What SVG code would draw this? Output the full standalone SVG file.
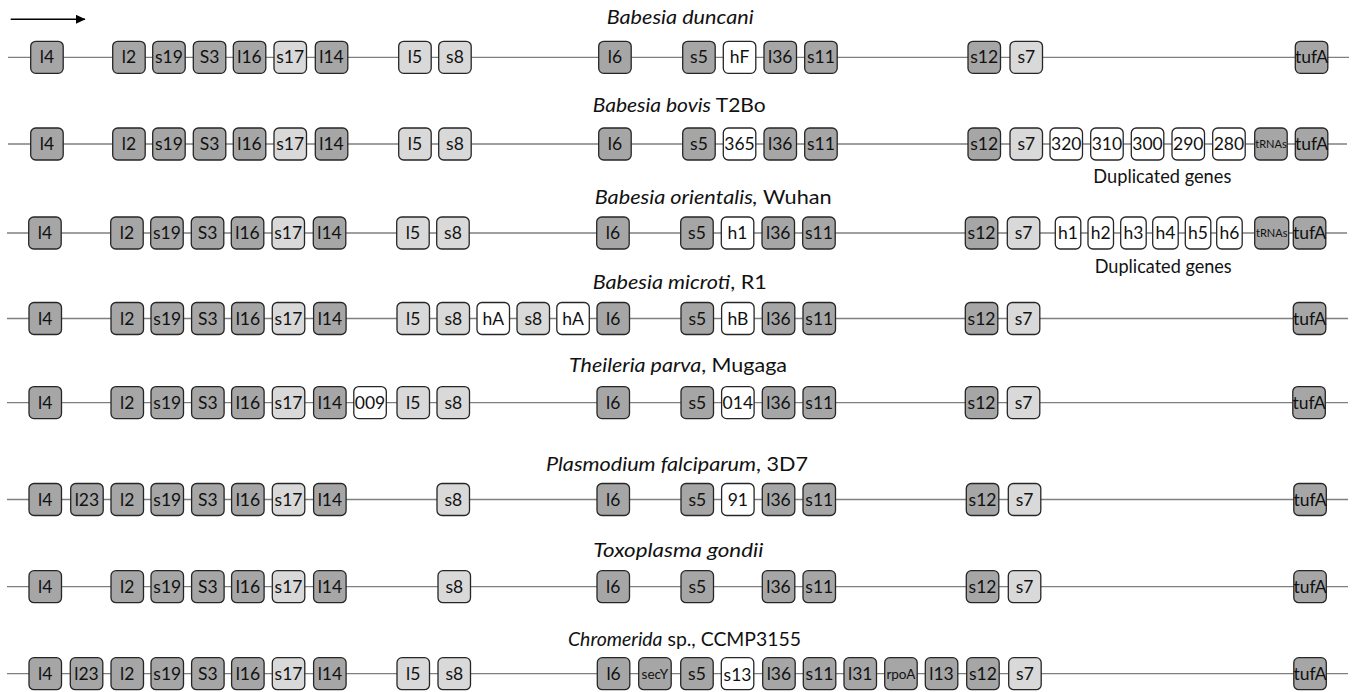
<svg xmlns="http://www.w3.org/2000/svg" width="1355" height="692" viewBox="0 0 1355 692">
<style>
.b{stroke:#262626;stroke-width:1.3}
.d{fill:#a6a6a6}.l{fill:#d9d9d9}.w{fill:#ffffff}
.t{font-family:Lato,"Open Sans",sans-serif;font-size:17.5px;text-anchor:middle;fill:#111}
.sm{font-size:13.5px}.xs{font-size:11px}
.ttl{font-family:Lato,"Open Sans",sans-serif;font-size:20px;fill:#111}
.dup{font-size:19px}
.ln{stroke:#7f7f7f;stroke-width:1.3;fill:none}
</style>
<defs>
<marker id="ah" markerUnits="userSpaceOnUse" markerWidth="10" markerHeight="10" refX="9" refY="4.5" orient="auto"><path d="M0,0 L9.5,4.5 L0,9 z" fill="#000"/></marker>
</defs>
<rect width="1355" height="692" fill="#fff"/>
<g id="connectors">
<line x1="10.7" y1="19.3" x2="85" y2="19.3" stroke="#000" stroke-width="1.5" marker-end="url(#ah)"/>
<line class="ln" x1="8" y1="57.3" x2="1349" y2="57.3"/>
<line class="ln" x1="8" y1="144" x2="1347" y2="144"/>
<line class="ln" x1="7" y1="233" x2="1347" y2="233"/>
<line class="ln" x1="7" y1="318.5" x2="1348" y2="318.5"/>
<line class="ln" x1="7" y1="402.6" x2="1348" y2="402.6"/>
<line class="ln" x1="7" y1="499.5" x2="1348" y2="499.5"/>
<line class="ln" x1="7" y1="586.7" x2="1348" y2="586.7"/>
<line class="ln" x1="7" y1="673.7" x2="1348" y2="673.7"/>
</g>
<g id="titles">
<text id="title1" class="ttl" x="606.7" y="24" textLength="147" lengthAdjust="spacingAndGlyphs" font-style="italic">Babesia duncani</text>
<text id="title2" class="ttl" x="592.7" y="112" textLength="173" lengthAdjust="spacingAndGlyphs"><tspan font-style="italic">Babesia bovis</tspan> T2Bo</text>
<text id="dup2" class="ttl dup" x="1093.3" y="183.3" textLength="138" lengthAdjust="spacingAndGlyphs">Duplicated genes</text>
<text id="title3" class="ttl" x="594.7" y="204" textLength="237" lengthAdjust="spacingAndGlyphs"><tspan font-style="italic">Babesia orientalis,</tspan> Wuhan</text>
<text id="dup3" class="ttl dup" x="1094.7" y="273.3" textLength="137" lengthAdjust="spacingAndGlyphs">Duplicated genes</text>
<text id="title4" class="ttl" x="592.7" y="289.3" textLength="174" lengthAdjust="spacingAndGlyphs"><tspan font-style="italic">Babesia microti</tspan>, R1</text>
<text id="title5" class="ttl" x="569" y="372" textLength="218" lengthAdjust="spacingAndGlyphs"><tspan font-style="italic">Theileria parva</tspan>, Mugaga</text>
<text id="title6" class="ttl" x="546" y="470.5" textLength="262" lengthAdjust="spacingAndGlyphs"><tspan font-style="italic">Plasmodium falciparum</tspan>, 3D7</text>
<text id="title7" class="ttl" x="593.3" y="557" textLength="170" lengthAdjust="spacingAndGlyphs" font-style="italic">Toxoplasma gondii</text>
<text id="title8" class="ttl" x="568" y="646" textLength="233" lengthAdjust="spacingAndGlyphs"><tspan font-style="italic">Chromerida</tspan> sp., CCMP3155</text>
</g>

<g id="row1" transform="translate(0,57.3)">
<g id="r1-l4"><rect class="b d" x="30.7" y="-16" width="32.5" height="32" rx="5"/><text class="t" x="46.95" y="6">l4</text></g>
<g id="r1-l2"><rect class="b d" x="112.7" y="-16" width="32.5" height="32" rx="5"/><text class="t" x="128.95" y="6">l2</text></g>
<g id="r1-s19"><rect class="b d" x="152.7" y="-16" width="32.5" height="32" rx="5"/><text class="t" x="168.95" y="6">s19</text></g>
<g id="r1-S3"><rect class="b d" x="193.3" y="-16" width="32.5" height="32" rx="5"/><text class="t" x="209.55" y="6">S3</text></g>
<g id="r1-l16"><rect class="b d" x="233.3" y="-16" width="32.5" height="32" rx="5"/><text class="t" x="249.55" y="6">l16</text></g>
<g id="r1-s17"><rect class="b l" x="274" y="-16" width="32.5" height="32" rx="5"/><text class="t" x="290.25" y="6">s17</text></g>
<g id="r1-l14"><rect class="b d" x="315.3" y="-16" width="32.5" height="32" rx="5"/><text class="t" x="331.55" y="6">l14</text></g>
<g id="r1-l5"><rect class="b l" x="398.7" y="-16" width="32.5" height="32" rx="5"/><text class="t" x="414.95" y="6">l5</text></g>
<g id="r1-s8"><rect class="b l" x="438.7" y="-16" width="32.5" height="32" rx="5"/><text class="t" x="454.95" y="6">s8</text></g>
<g id="r1-l6"><rect class="b d" x="598.7" y="-16" width="32.5" height="32" rx="5"/><text class="t" x="614.95" y="6">l6</text></g>
<g id="r1-s5"><rect class="b d" x="682.7" y="-16" width="32.5" height="32" rx="5"/><text class="t" x="698.95" y="6">s5</text></g>
<g id="r1-hF"><rect class="b w" x="723.3" y="-16" width="32.5" height="32" rx="5"/><text class="t" x="739.55" y="6">hF</text></g>
<g id="r1-l36"><rect class="b d" x="764" y="-16" width="32.5" height="32" rx="5"/><text class="t" x="780.25" y="6">l36</text></g>
<g id="r1-s11"><rect class="b d" x="804.7" y="-16" width="32.5" height="32" rx="5"/><text class="t" x="820.95" y="6">s11</text></g>
<g id="r1-s12"><rect class="b d" x="968" y="-16" width="32.5" height="32" rx="5"/><text class="t" x="984.25" y="6">s12</text></g>
<g id="r1-s7"><rect class="b l" x="1010" y="-16" width="32.5" height="32" rx="5"/><text class="t" x="1026.25" y="6">s7</text></g>
<g id="r1-tufA"><rect class="b d" x="1295.3" y="-16" width="32.5" height="32" rx="5"/><text class="t" x="1311.55" y="6">tufA</text></g>
</g>

<g id="row2" transform="translate(0,144)">
<g id="r2-l4"><rect class="b d" x="30.7" y="-16" width="32.5" height="32" rx="5"/><text class="t" x="46.95" y="6">l4</text></g>
<g id="r2-l2"><rect class="b d" x="112.7" y="-16" width="32.5" height="32" rx="5"/><text class="t" x="128.95" y="6">l2</text></g>
<g id="r2-s19"><rect class="b d" x="152.7" y="-16" width="32.5" height="32" rx="5"/><text class="t" x="168.95" y="6">s19</text></g>
<g id="r2-S3"><rect class="b d" x="193.3" y="-16" width="32.5" height="32" rx="5"/><text class="t" x="209.55" y="6">S3</text></g>
<g id="r2-l16"><rect class="b d" x="233.3" y="-16" width="32.5" height="32" rx="5"/><text class="t" x="249.55" y="6">l16</text></g>
<g id="r2-s17"><rect class="b l" x="274" y="-16" width="32.5" height="32" rx="5"/><text class="t" x="290.25" y="6">s17</text></g>
<g id="r2-l14"><rect class="b d" x="315.3" y="-16" width="32.5" height="32" rx="5"/><text class="t" x="331.55" y="6">l14</text></g>
<g id="r2-l5"><rect class="b l" x="398.7" y="-16" width="32.5" height="32" rx="5"/><text class="t" x="414.95" y="6">l5</text></g>
<g id="r2-s8"><rect class="b l" x="438.7" y="-16" width="32.5" height="32" rx="5"/><text class="t" x="454.95" y="6">s8</text></g>
<g id="r2-l6"><rect class="b d" x="598.7" y="-16" width="32.5" height="32" rx="5"/><text class="t" x="614.95" y="6">l6</text></g>
<g id="r2-s5"><rect class="b d" x="682.7" y="-16" width="32.5" height="32" rx="5"/><text class="t" x="698.95" y="6">s5</text></g>
<g id="r2-365"><rect class="b w" x="723.3" y="-16" width="32.5" height="32" rx="5"/><text class="t" x="739.55" y="6">365</text></g>
<g id="r2-l36"><rect class="b d" x="764" y="-16" width="32.5" height="32" rx="5"/><text class="t" x="780.25" y="6">l36</text></g>
<g id="r2-s11"><rect class="b d" x="804.7" y="-16" width="32.5" height="32" rx="5"/><text class="t" x="820.95" y="6">s11</text></g>
<g id="r2-s12"><rect class="b d" x="968" y="-16" width="32.5" height="32" rx="5"/><text class="t" x="984.25" y="6">s12</text></g>
<g id="r2-s7"><rect class="b l" x="1010" y="-16" width="32.5" height="32" rx="5"/><text class="t" x="1026.25" y="6">s7</text></g>
<g id="r2-320"><rect class="b w" x="1050" y="-16" width="32.5" height="32" rx="5"/><text class="t" x="1066.25" y="6">320</text></g>
<g id="r2-310"><rect class="b w" x="1090.7" y="-16" width="32.5" height="32" rx="5"/><text class="t" x="1106.95" y="6">310</text></g>
<g id="r2-300"><rect class="b w" x="1131.3" y="-16" width="32.5" height="32" rx="5"/><text class="t" x="1147.55" y="6">300</text></g>
<g id="r2-290"><rect class="b w" x="1172" y="-16" width="32.5" height="32" rx="5"/><text class="t" x="1188.25" y="6">290</text></g>
<g id="r2-280"><rect class="b w" x="1212.7" y="-16" width="32.5" height="32" rx="5"/><text class="t" x="1228.95" y="6">280</text></g>
<g id="r2-tRNAs"><rect class="b d" x="1254.7" y="-16" width="32.5" height="32" rx="5"/><text class="t xs" x="1270.95" y="4">tRNAs</text></g>
<g id="r2-tufA"><rect class="b d" x="1295.3" y="-16" width="32.5" height="32" rx="5"/><text class="t" x="1311.55" y="6">tufA</text></g>
</g>

<g id="row3" transform="translate(-2,233)">
<g id="r3-l4"><rect class="b d" x="30.7" y="-16" width="32.5" height="32" rx="5"/><text class="t" x="46.95" y="6">l4</text></g>
<g id="r3-l2"><rect class="b d" x="112.7" y="-16" width="32.5" height="32" rx="5"/><text class="t" x="128.95" y="6">l2</text></g>
<g id="r3-s19"><rect class="b d" x="152.7" y="-16" width="32.5" height="32" rx="5"/><text class="t" x="168.95" y="6">s19</text></g>
<g id="r3-S3"><rect class="b d" x="193.3" y="-16" width="32.5" height="32" rx="5"/><text class="t" x="209.55" y="6">S3</text></g>
<g id="r3-l16"><rect class="b d" x="233.3" y="-16" width="32.5" height="32" rx="5"/><text class="t" x="249.55" y="6">l16</text></g>
<g id="r3-s17"><rect class="b l" x="274" y="-16" width="32.5" height="32" rx="5"/><text class="t" x="290.25" y="6">s17</text></g>
<g id="r3-l14"><rect class="b d" x="315.3" y="-16" width="32.5" height="32" rx="5"/><text class="t" x="331.55" y="6">l14</text></g>
<g id="r3-l5"><rect class="b l" x="398.7" y="-16" width="32.5" height="32" rx="5"/><text class="t" x="414.95" y="6">l5</text></g>
<g id="r3-s8"><rect class="b l" x="438.7" y="-16" width="32.5" height="32" rx="5"/><text class="t" x="454.95" y="6">s8</text></g>
<g id="r3-l6"><rect class="b d" x="598.7" y="-16" width="32.5" height="32" rx="5"/><text class="t" x="614.95" y="6">l6</text></g>
<g id="r3-s5"><rect class="b d" x="682.7" y="-16" width="32.5" height="32" rx="5"/><text class="t" x="698.95" y="6">s5</text></g>
<g id="r3-h1a"><rect class="b w" x="723.3" y="-16" width="32.5" height="32" rx="5"/><text class="t" x="739.55" y="6">h1</text></g>
<g id="r3-l36"><rect class="b d" x="764" y="-16" width="32.5" height="32" rx="5"/><text class="t" x="780.25" y="6">l36</text></g>
<g id="r3-s11"><rect class="b d" x="804.7" y="-16" width="32.5" height="32" rx="5"/><text class="t" x="820.95" y="6">s11</text></g>
<g id="r3-s12"><rect class="b d" x="967.3" y="-16" width="32.5" height="32" rx="5"/><text class="t" x="983.55" y="6">s12</text></g>
<g id="r3-s7"><rect class="b l" x="1009.3" y="-16" width="32.5" height="32" rx="5"/><text class="t" x="1025.55" y="6">s7</text></g>
<g id="r3-h1"><rect class="b w" x="1057.3" y="-16" width="25.5" height="32" rx="5"/><text class="t" x="1070.05" y="6">h1</text></g>
<g id="r3-h2"><rect class="b w" x="1090" y="-16" width="25.5" height="32" rx="5"/><text class="t" x="1102.75" y="6">h2</text></g>
<g id="r3-h3"><rect class="b w" x="1122.7" y="-16" width="25.5" height="32" rx="5"/><text class="t" x="1135.45" y="6">h3</text></g>
<g id="r3-h4"><rect class="b w" x="1154.7" y="-16" width="25.5" height="32" rx="5"/><text class="t" x="1167.45" y="6">h4</text></g>
<g id="r3-h5"><rect class="b w" x="1187.3" y="-16" width="25.5" height="32" rx="5"/><text class="t" x="1200.05" y="6">h5</text></g>
<g id="r3-h6"><rect class="b w" x="1218.7" y="-16" width="25.5" height="32" rx="5"/><text class="t" x="1231.45" y="6">h6</text></g>
<g id="r3-tRNAs"><rect class="b d" x="1256.7" y="-16" width="34" height="32" rx="5"/><text class="t xs" x="1273.7" y="4">tRNAs</text></g>
<g id="r3-tufA"><rect class="b d" x="1295.3" y="-16" width="32.5" height="32" rx="5"/><text class="t" x="1311.55" y="6">tufA</text></g>
</g>

<g id="row4" transform="translate(-1.7,318.5)">
<g id="r4-l4"><rect class="b d" x="30.7" y="-16" width="32.5" height="32" rx="5"/><text class="t" x="46.95" y="6">l4</text></g>
<g id="r4-l2"><rect class="b d" x="112.7" y="-16" width="32.5" height="32" rx="5"/><text class="t" x="128.95" y="6">l2</text></g>
<g id="r4-s19"><rect class="b d" x="152.7" y="-16" width="32.5" height="32" rx="5"/><text class="t" x="168.95" y="6">s19</text></g>
<g id="r4-S3"><rect class="b d" x="193.3" y="-16" width="32.5" height="32" rx="5"/><text class="t" x="209.55" y="6">S3</text></g>
<g id="r4-l16"><rect class="b d" x="233.3" y="-16" width="32.5" height="32" rx="5"/><text class="t" x="249.55" y="6">l16</text></g>
<g id="r4-s17"><rect class="b l" x="274" y="-16" width="32.5" height="32" rx="5"/><text class="t" x="290.25" y="6">s17</text></g>
<g id="r4-l14"><rect class="b d" x="315.3" y="-16" width="32.5" height="32" rx="5"/><text class="t" x="331.55" y="6">l14</text></g>
<g id="r4-l5"><rect class="b l" x="398.7" y="-16" width="32.5" height="32" rx="5"/><text class="t" x="414.95" y="6">l5</text></g>
<g id="r4-s8"><rect class="b l" x="438.7" y="-16" width="32.5" height="32" rx="5"/><text class="t" x="454.95" y="6">s8</text></g>
<g id="r4-hA"><rect class="b w" x="478.7" y="-16" width="32.5" height="32" rx="5"/><text class="t" x="494.95" y="6">hA</text></g>
<g id="r4-s8b"><rect class="b l" x="518.7" y="-16" width="32.5" height="32" rx="5"/><text class="t" x="534.95" y="6">s8</text></g>
<g id="r4-hAb"><rect class="b w" x="558.5" y="-16" width="32.5" height="32" rx="5"/><text class="t" x="574.75" y="6">hA</text></g>
<g id="r4-l6"><rect class="b d" x="598.7" y="-16" width="32.5" height="32" rx="5"/><text class="t" x="614.95" y="6">l6</text></g>
<g id="r4-s5"><rect class="b d" x="682.7" y="-16" width="32.5" height="32" rx="5"/><text class="t" x="698.95" y="6">s5</text></g>
<g id="r4-hB"><rect class="b w" x="723.3" y="-16" width="32.5" height="32" rx="5"/><text class="t" x="739.55" y="6">hB</text></g>
<g id="r4-l36"><rect class="b d" x="764" y="-16" width="32.5" height="32" rx="5"/><text class="t" x="780.25" y="6">l36</text></g>
<g id="r4-s11"><rect class="b d" x="804.7" y="-16" width="32.5" height="32" rx="5"/><text class="t" x="820.95" y="6">s11</text></g>
<g id="r4-s12"><rect class="b d" x="967" y="-16" width="32.5" height="32" rx="5"/><text class="t" x="983.25" y="6">s12</text></g>
<g id="r4-s7"><rect class="b l" x="1009" y="-16" width="32.5" height="32" rx="5"/><text class="t" x="1025.25" y="6">s7</text></g>
<g id="r4-tufA"><rect class="b d" x="1295" y="-16" width="32.5" height="32" rx="5"/><text class="t" x="1311.25" y="6">tufA</text></g>
</g>

<g id="row5" transform="translate(-1.7,402.6)">
<g id="r5-l4"><rect class="b d" x="30.7" y="-16" width="32.5" height="32" rx="5"/><text class="t" x="46.95" y="6">l4</text></g>
<g id="r5-l2"><rect class="b d" x="112.7" y="-16" width="32.5" height="32" rx="5"/><text class="t" x="128.95" y="6">l2</text></g>
<g id="r5-s19"><rect class="b d" x="152.7" y="-16" width="32.5" height="32" rx="5"/><text class="t" x="168.95" y="6">s19</text></g>
<g id="r5-S3"><rect class="b d" x="193.3" y="-16" width="32.5" height="32" rx="5"/><text class="t" x="209.55" y="6">S3</text></g>
<g id="r5-l16"><rect class="b d" x="233.3" y="-16" width="32.5" height="32" rx="5"/><text class="t" x="249.55" y="6">l16</text></g>
<g id="r5-s17"><rect class="b l" x="274" y="-16" width="32.5" height="32" rx="5"/><text class="t" x="290.25" y="6">s17</text></g>
<g id="r5-l14"><rect class="b d" x="315.3" y="-16" width="32.5" height="32" rx="5"/><text class="t" x="331.55" y="6">l14</text></g>
<g id="r5-009"><rect class="b w" x="355.5" y="-16" width="32.5" height="32" rx="5"/><text class="t" x="371.75" y="6">009</text></g>
<g id="r5-l5"><rect class="b l" x="398.7" y="-16" width="32.5" height="32" rx="5"/><text class="t" x="414.95" y="6">l5</text></g>
<g id="r5-s8"><rect class="b l" x="438.7" y="-16" width="32.5" height="32" rx="5"/><text class="t" x="454.95" y="6">s8</text></g>
<g id="r5-l6"><rect class="b d" x="598.7" y="-16" width="32.5" height="32" rx="5"/><text class="t" x="614.95" y="6">l6</text></g>
<g id="r5-s5"><rect class="b d" x="682.7" y="-16" width="32.5" height="32" rx="5"/><text class="t" x="698.95" y="6">s5</text></g>
<g id="r5-014"><rect class="b w" x="723.3" y="-16" width="32.5" height="32" rx="5"/><text class="t" x="739.55" y="6">014</text></g>
<g id="r5-l36"><rect class="b d" x="764" y="-16" width="32.5" height="32" rx="5"/><text class="t" x="780.25" y="6">l36</text></g>
<g id="r5-s11"><rect class="b d" x="804.7" y="-16" width="32.5" height="32" rx="5"/><text class="t" x="820.95" y="6">s11</text></g>
<g id="r5-s12"><rect class="b d" x="967" y="-16" width="32.5" height="32" rx="5"/><text class="t" x="983.25" y="6">s12</text></g>
<g id="r5-s7"><rect class="b l" x="1009" y="-16" width="32.5" height="32" rx="5"/><text class="t" x="1025.25" y="6">s7</text></g>
<g id="r5-tufA"><rect class="b d" x="1294.5" y="-16" width="32.5" height="32" rx="5"/><text class="t" x="1310.75" y="6">tufA</text></g>
</g>

<g id="row6" transform="translate(-1.7,499.5)">
<g id="r6-l4"><rect class="b d" x="30.7" y="-16" width="32.5" height="32" rx="5"/><text class="t" x="46.95" y="6">l4</text></g>
<g id="r6-l23"><rect class="b d" x="72.4" y="-16" width="32.5" height="32" rx="5"/><text class="t" x="88.65" y="6">l23</text></g>
<g id="r6-l2"><rect class="b d" x="112.7" y="-16" width="32.5" height="32" rx="5"/><text class="t" x="128.95" y="6">l2</text></g>
<g id="r6-s19"><rect class="b d" x="152.7" y="-16" width="32.5" height="32" rx="5"/><text class="t" x="168.95" y="6">s19</text></g>
<g id="r6-S3"><rect class="b d" x="193.3" y="-16" width="32.5" height="32" rx="5"/><text class="t" x="209.55" y="6">S3</text></g>
<g id="r6-l16"><rect class="b d" x="233.3" y="-16" width="32.5" height="32" rx="5"/><text class="t" x="249.55" y="6">l16</text></g>
<g id="r6-s17"><rect class="b l" x="274" y="-16" width="32.5" height="32" rx="5"/><text class="t" x="290.25" y="6">s17</text></g>
<g id="r6-l14"><rect class="b d" x="315.3" y="-16" width="32.5" height="32" rx="5"/><text class="t" x="331.55" y="6">l14</text></g>
<g id="r6-s8"><rect class="b l" x="438.7" y="-16" width="32.5" height="32" rx="5"/><text class="t" x="454.95" y="6">s8</text></g>
<g id="r6-l6"><rect class="b d" x="598.7" y="-16" width="32.5" height="32" rx="5"/><text class="t" x="614.95" y="6">l6</text></g>
<g id="r6-s5"><rect class="b d" x="682.7" y="-16" width="32.5" height="32" rx="5"/><text class="t" x="698.95" y="6">s5</text></g>
<g id="r6-91"><rect class="b w" x="723.3" y="-16" width="32.5" height="32" rx="5"/><text class="t" x="739.55" y="6">91</text></g>
<g id="r6-l36"><rect class="b d" x="764" y="-16" width="32.5" height="32" rx="5"/><text class="t" x="780.25" y="6">l36</text></g>
<g id="r6-s11"><rect class="b d" x="804.7" y="-16" width="32.5" height="32" rx="5"/><text class="t" x="820.95" y="6">s11</text></g>
<g id="r6-s12"><rect class="b d" x="968" y="-16" width="32.5" height="32" rx="5"/><text class="t" x="984.25" y="6">s12</text></g>
<g id="r6-s7"><rect class="b l" x="1010" y="-16" width="32.5" height="32" rx="5"/><text class="t" x="1026.25" y="6">s7</text></g>
<g id="r6-tufA"><rect class="b d" x="1295.5" y="-16" width="32.5" height="32" rx="5"/><text class="t" x="1311.75" y="6">tufA</text></g>
</g>

<g id="row7" transform="translate(-1.7,586.7)">
<g id="r7-l4"><rect class="b d" x="30.7" y="-16" width="32.5" height="32" rx="5"/><text class="t" x="46.95" y="6">l4</text></g>
<g id="r7-l2"><rect class="b d" x="112.7" y="-16" width="32.5" height="32" rx="5"/><text class="t" x="128.95" y="6">l2</text></g>
<g id="r7-s19"><rect class="b d" x="152.7" y="-16" width="32.5" height="32" rx="5"/><text class="t" x="168.95" y="6">s19</text></g>
<g id="r7-S3"><rect class="b d" x="193.3" y="-16" width="32.5" height="32" rx="5"/><text class="t" x="209.55" y="6">S3</text></g>
<g id="r7-l16"><rect class="b d" x="233.3" y="-16" width="32.5" height="32" rx="5"/><text class="t" x="249.55" y="6">l16</text></g>
<g id="r7-s17"><rect class="b l" x="274" y="-16" width="32.5" height="32" rx="5"/><text class="t" x="290.25" y="6">s17</text></g>
<g id="r7-l14"><rect class="b d" x="315.3" y="-16" width="32.5" height="32" rx="5"/><text class="t" x="331.55" y="6">l14</text></g>
<g id="r7-s8"><rect class="b l" x="439.7" y="-16" width="32.5" height="32" rx="5"/><text class="t" x="455.95" y="6">s8</text></g>
<g id="r7-l6"><rect class="b d" x="598.7" y="-16" width="32.5" height="32" rx="5"/><text class="t" x="614.95" y="6">l6</text></g>
<g id="r7-s5"><rect class="b d" x="682.7" y="-16" width="32.5" height="32" rx="5"/><text class="t" x="698.95" y="6">s5</text></g>
<g id="r7-l36"><rect class="b d" x="764" y="-16" width="32.5" height="32" rx="5"/><text class="t" x="780.25" y="6">l36</text></g>
<g id="r7-s11"><rect class="b d" x="804.7" y="-16" width="32.5" height="32" rx="5"/><text class="t" x="820.95" y="6">s11</text></g>
<g id="r7-s12"><rect class="b d" x="968" y="-16" width="32.5" height="32" rx="5"/><text class="t" x="984.25" y="6">s12</text></g>
<g id="r7-s7"><rect class="b l" x="1010" y="-16" width="32.5" height="32" rx="5"/><text class="t" x="1026.25" y="6">s7</text></g>
<g id="r7-tufA"><rect class="b d" x="1295.5" y="-16" width="32.5" height="32" rx="5"/><text class="t" x="1311.75" y="6">tufA</text></g>
</g>

<g id="row8" transform="translate(-1.7,673.7)">
<g id="r8-l4"><rect class="b d" x="30.7" y="-16" width="32.5" height="32" rx="5"/><text class="t" x="46.95" y="6">l4</text></g>
<g id="r8-l23"><rect class="b d" x="72" y="-16" width="32.5" height="32" rx="5"/><text class="t" x="88.25" y="6">l23</text></g>
<g id="r8-l2"><rect class="b d" x="112.7" y="-16" width="32.5" height="32" rx="5"/><text class="t" x="128.95" y="6">l2</text></g>
<g id="r8-s19"><rect class="b d" x="152.7" y="-16" width="32.5" height="32" rx="5"/><text class="t" x="168.95" y="6">s19</text></g>
<g id="r8-S3"><rect class="b d" x="193.3" y="-16" width="32.5" height="32" rx="5"/><text class="t" x="209.55" y="6">S3</text></g>
<g id="r8-l16"><rect class="b d" x="233.3" y="-16" width="32.5" height="32" rx="5"/><text class="t" x="249.55" y="6">l16</text></g>
<g id="r8-s17"><rect class="b l" x="274" y="-16" width="32.5" height="32" rx="5"/><text class="t" x="290.25" y="6">s17</text></g>
<g id="r8-l14"><rect class="b d" x="315.3" y="-16" width="32.5" height="32" rx="5"/><text class="t" x="331.55" y="6">l14</text></g>
<g id="r8-l5"><rect class="b l" x="398.7" y="-16" width="32.5" height="32" rx="5"/><text class="t" x="414.95" y="6">l5</text></g>
<g id="r8-s8"><rect class="b l" x="439.7" y="-16" width="32.5" height="32" rx="5"/><text class="t" x="455.95" y="6">s8</text></g>
<g id="r8-l6"><rect class="b d" x="599" y="-16" width="32.5" height="32" rx="5"/><text class="t" x="615.25" y="6">l6</text></g>
<g id="r8-secY"><rect class="b d" x="640.4" y="-16" width="32.5" height="32" rx="5"/><text class="t sm" x="656.65" y="5">secY</text></g>
<g id="r8-s5"><rect class="b d" x="682.4" y="-16" width="32.5" height="32" rx="5"/><text class="t" x="698.65" y="6">s5</text></g>
<g id="r8-s13"><rect class="b w" x="723" y="-16" width="32.5" height="32" rx="5"/><text class="t" x="739.25" y="7.5">s13</text></g>
<g id="r8-l36"><rect class="b d" x="764.4" y="-16" width="32.5" height="32" rx="5"/><text class="t" x="780.65" y="6">l36</text></g>
<g id="r8-s11"><rect class="b d" x="805" y="-16" width="32.5" height="32" rx="5"/><text class="t" x="821.25" y="6">s11</text></g>
<g id="r8-l31"><rect class="b d" x="845.7" y="-16" width="32.5" height="32" rx="5"/><text class="t" x="861.95" y="6">l31</text></g>
<g id="r8-rpoA"><rect class="b d" x="886.4" y="-16" width="32.5" height="32" rx="5"/><text class="t sm" x="902.65" y="5">rpoA</text></g>
<g id="r8-l13"><rect class="b d" x="927" y="-16" width="32.5" height="32" rx="5"/><text class="t" x="943.25" y="6">l13</text></g>
<g id="r8-s12"><rect class="b d" x="968.4" y="-16" width="32.5" height="32" rx="5"/><text class="t" x="984.65" y="6">s12</text></g>
<g id="r8-s7"><rect class="b l" x="1010.4" y="-16" width="32.5" height="32" rx="5"/><text class="t" x="1026.65" y="6">s7</text></g>
<g id="r8-tufA"><rect class="b d" x="1295.5" y="-16" width="32.5" height="32" rx="5"/><text class="t" x="1311.75" y="6">tufA</text></g>
</g>
</svg>
